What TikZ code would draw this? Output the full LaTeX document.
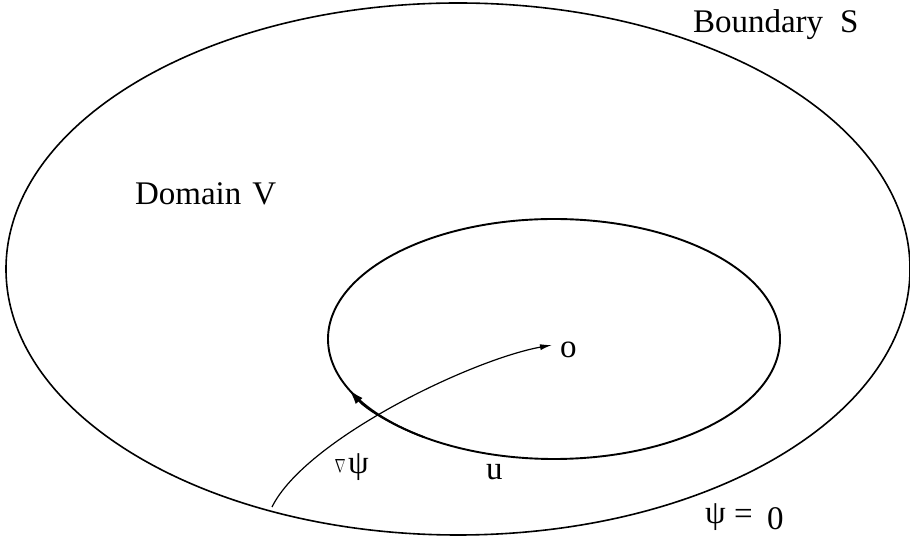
\documentclass[tikz,border=0pt]{standalone}
\usepackage{fontspec}
\usepackage{graphicx}
\setmainfont{Liberation Serif}
\usetikzlibrary{arrows.meta}
\tikzset{
  lbl/.style={inner sep=0pt, outer sep=0pt, anchor=base west, font=\fontsize{33}{36}\selectfont},
  outerline/.style={line width=1.6pt},
  innerline/.style={line width=1.9pt},
  gradline/.style={line width=1.2pt},
}
\begin{document}
\begin{tikzpicture}[x=1pt,y=1pt]
\useasboundingbox (0,0) rectangle (910,543);
% outer boundary S
\draw[outerline] (458,274) ellipse [x radius=452, y radius=266];
% inner curve
\draw[innerline] (554,204) ellipse [x radius=226, y radius=120];
\draw[innerline, -{Latex[length=15pt,width=9pt]}] (554,204) ++(235:226 and 120) arc[start angle=235, end angle=205, x radius=226, y radius=120];
% gradient path
\coordinate (s) at (272,36);
\coordinate (o) at (552,198);
\draw[gradline, -{Latex[length=12pt,width=6pt]}] (s) .. controls (305,103) and (470,183) .. (o);
% labels
\node[lbl] (bs) at (693,510) {Boundary\hspace{17pt}S};
\node[lbl] (dv) at (135,338) {Domain\hspace{11pt}V};
\node[lbl] (olbl) at (560,185) {o};
\node[lbl] (ulbl) at (486,63) {u};
\node[inner sep=0pt] (nabla) at (340,76.5) {\resizebox{11pt}{13pt}{$\nabla$}};
\node[lbl] (psi1) at (348,69) {ψ};
\node[lbl] (psi2) at (705,19) {ψ};
\node[lbl] (eq) at (734,18) {=};
\node[lbl] (zero) at (767,13) {0};
\end{tikzpicture}
\end{document}
